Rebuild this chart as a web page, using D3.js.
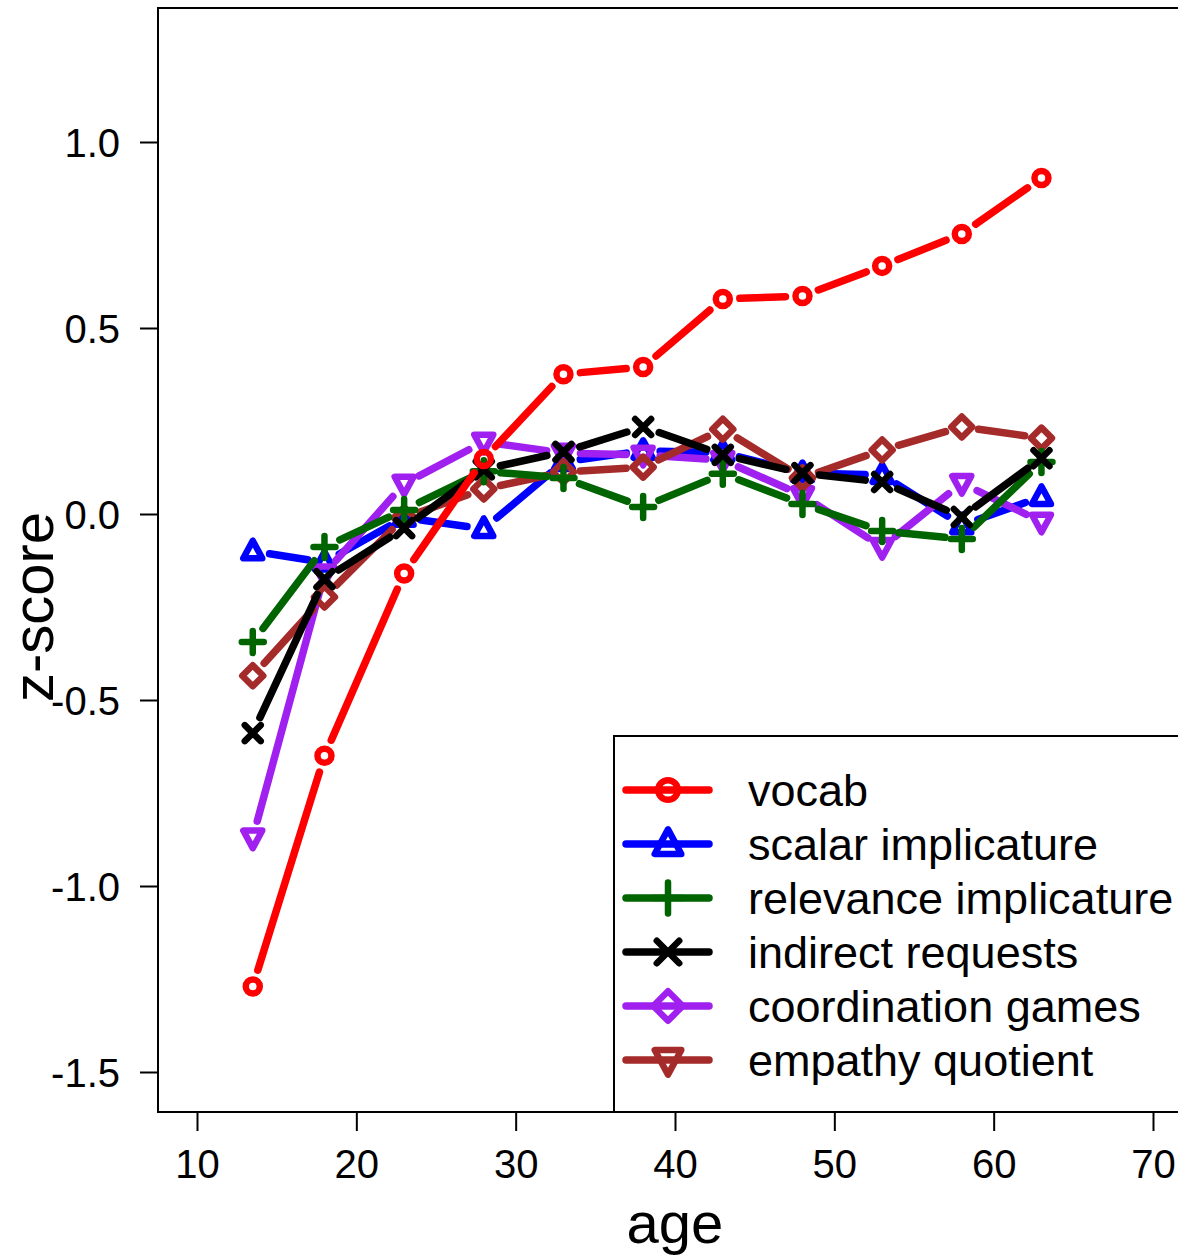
<!DOCTYPE html>
<html>
<head>
<meta charset="utf-8">
<script src="https://cdn.jsdelivr.net/npm/d3@7"></script>
<style>
  body { margin: 0; background: #fff; }
  text { font-family: "Liberation Sans", Arial, sans-serif; fill: #000; }
</style>
</head>
<body>
<svg id="chart" width="1178" height="1257"></svg>
<script>
// ages (bin centres)
var ages = [13.5, 18, 23, 28, 33, 38, 43, 48, 53, 58, 63];

var vocab        = [-1.27, -0.65, -0.16, 0.148, 0.376, 0.395, 0.578, 0.586, 0.667, 0.753, 0.903];
var scalar       = [-0.10, -0.13, -0.01, -0.04, 0.14, 0.17, 0.165, 0.11, 0.105, -0.03, 0.046];
var relevance    = [-0.344, -0.089, 0.011, 0.115, 0.097, 0.019, 0.108, 0.027, -0.046, -0.067, 0.14];
var indirect     = [-0.589, -0.175, -0.038, 0.12, 0.167, 0.234, 0.159, 0.11, 0.086, -0.008, 0.15];
var coordination = [-0.87, -0.16, 0.081, 0.194, 0.164, 0.159, 0.145, 0.05, -0.089, 0.083, -0.021];
var empathy      = [-0.435, -0.223, -0.01, 0.067, 0.113, 0.126, 0.228, 0.097, 0.172, 0.234, 0.204];

var xTicks = [10, 20, 30, 40, 50, 60, 70];
var yTicks = [-1.5, -1.0, -0.5, 0.0, 0.5, 1.0];

// legend order (as printed) -- the legend symbols for the last two are swapped vs the plot
var legendNames  = ["vocab", "scalar implicature", "relevance implicature", "indirect requests", "coordination games", "empathy quotient"];
var legendColors = ["#ff0000", "#0000ff", "#006400", "#000000", "#a020f0", "#a52a2a"];
var legendShapes = ["circle", "up", "plus", "cross", "diamond", "down"];

// drawing order in the panel
var series = [
  {vals: scalar,       col: "#0000ff", shape: "up"},
  {vals: coordination, col: "#a020f0", shape: "down"},
  {vals: empathy,      col: "#a52a2a", shape: "diamond"},
  {vals: relevance,    col: "#006400", shape: "plus"},
  {vals: indirect,     col: "#000000", shape: "cross"},
  {vals: vocab,        col: "#ff0000", shape: "circle"}
];

var svg = d3.select("#chart");
var x = d3.scaleLinear().domain([10, 70]).range([197, 1153]);
var y = d3.scaleLinear().domain([0, 1]).range([514, 142]);

var box = {left: 158, top: 8, right: 1200, bottom: 1112};

// axes
var xAxis = svg.append("g").attr("transform", "translate(0," + box.bottom + ")")
  .call(d3.axisBottom(x).tickValues(xTicks).tickSize(19).tickPadding(18).tickFormat(d3.format("d")));
var yAxis = svg.append("g").attr("transform", "translate(" + box.left + ",0)")
  .call(d3.axisLeft(y).tickValues(yTicks).tickSize(18).tickPadding(20).tickFormat(d3.format(".1f")));
[xAxis, yAxis].forEach(function(a) {
  a.select(".domain").remove();
  a.selectAll("line").attr("stroke", "#000").attr("stroke-width", 2);
  a.selectAll("text").style("font-size", "40px").style("font-family", "'Liberation Sans', Arial, sans-serif");
});
yAxis.selectAll("text").text(function(d) { return d3.format(".1f")(d).replace("−", "-"); }).attr("dy", "0.36em");
xAxis.selectAll("text").attr("dy", "0.72em");

svg.append("text").attr("x", 675).attr("y", 1243).attr("text-anchor", "middle")
  .style("font-size", "58px").text("age");
svg.append("text").attr("transform", "translate(53,607) rotate(-90)").attr("text-anchor", "middle")
  .style("font-size", "58px").text("z-score");

function marker(g, shape, cx, cy, col, s) {
  s = s || 1;
  var sw = 6.5;
  if (shape == "circle") {
    g.append("circle").attr("cx", cx).attr("cy", cy).attr("r", 7 * s)
      .attr("fill", "none").attr("stroke", col).attr("stroke-width", sw);
  } else if (shape == "up" || shape == "down") {
    var h = 9.5 * s, d = shape == "up" ? 1 : -1;
    var pts = [[cx, cy - d * h * 1.1], [cx - h, cy + d * h * 0.75], [cx + h, cy + d * h * 0.75]];
    g.append("path").attr("d", "M" + pts.join("L") + "Z")
      .attr("fill", "none").attr("stroke", col).attr("stroke-width", sw).attr("stroke-linejoin", "round");
  } else if (shape == "diamond") {
    var r = 10.5 * s;
    g.append("path").attr("d", "M" + [[cx, cy - r], [cx + r, cy], [cx, cy + r], [cx - r, cy]].join("L") + "Z")
      .attr("fill", "none").attr("stroke", col).attr("stroke-width", sw).attr("stroke-linejoin", "round");
  } else if (shape == "plus") {
    var a = 11 * s;
    g.append("path").attr("d", "M" + (cx - a) + "," + cy + "H" + (cx + a) + "M" + cx + "," + (cy - a) + "V" + (cy + a))
      .attr("stroke", col).attr("stroke-width", sw).attr("stroke-linecap", "round");
  } else if (shape == "cross") {
    var c = 8 * s;
    g.append("path").attr("d", "M" + (cx - c) + "," + (cy - c) + "L" + (cx + c) + "," + (cy + c) +
        "M" + (cx - c) + "," + (cy + c) + "L" + (cx + c) + "," + (cy - c))
      .attr("stroke", col).attr("stroke-width", sw).attr("stroke-linecap", "round");
  }
}

// type = "b": segments with a gap around each point
var gap = 17;
var plot = svg.append("g");
series.forEach(function(s) {
  var g = plot.append("g");
  var pts = ages.map(function(a, i) { return [x(a), y(s.vals[i])]; });
  for (var i = 0; i < pts.length - 1; i++) {
    var p = pts[i], q = pts[i + 1];
    var dx = q[0] - p[0], dy = q[1] - p[1], len = Math.sqrt(dx * dx + dy * dy);
    if (len <= 2 * gap) continue;
    var ux = dx / len, uy = dy / len;
    g.append("line")
      .attr("x1", p[0] + ux * gap).attr("y1", p[1] + uy * gap)
      .attr("x2", q[0] - ux * gap).attr("y2", q[1] - uy * gap)
      .attr("stroke", s.col).attr("stroke-width", 7.5).attr("stroke-linecap", "round");
  }
  pts.forEach(function(p) { marker(g, s.shape, p[0], p[1], s.col, 1); });
});

// legend
var lg = svg.append("g");
lg.append("rect").attr("x", 614).attr("y", 736).attr("width", 700).attr("height", box.bottom - 736)
  .attr("fill", "#fff").attr("stroke", "#000").attr("stroke-width", 2);
legendNames.forEach(function(name, i) {
  var cy = 790 + i * 54;
  lg.append("line").attr("x1", 626).attr("x2", 709).attr("y1", cy).attr("y2", cy)
    .attr("stroke", legendColors[i]).attr("stroke-width", 7.5).attr("stroke-linecap", "round");
  marker(lg, legendShapes[i], 668, cy, legendColors[i], 1.4);
  lg.append("text").attr("x", 748).attr("y", cy + 16).style("font-size", "45px").text(name);
});

// box
svg.append("rect").attr("x", box.left).attr("y", box.top)
  .attr("width", box.right - box.left).attr("height", box.bottom - box.top)
  .attr("fill", "none").attr("stroke", "#000").attr("stroke-width", 2);
</script>
</body>
</html>
